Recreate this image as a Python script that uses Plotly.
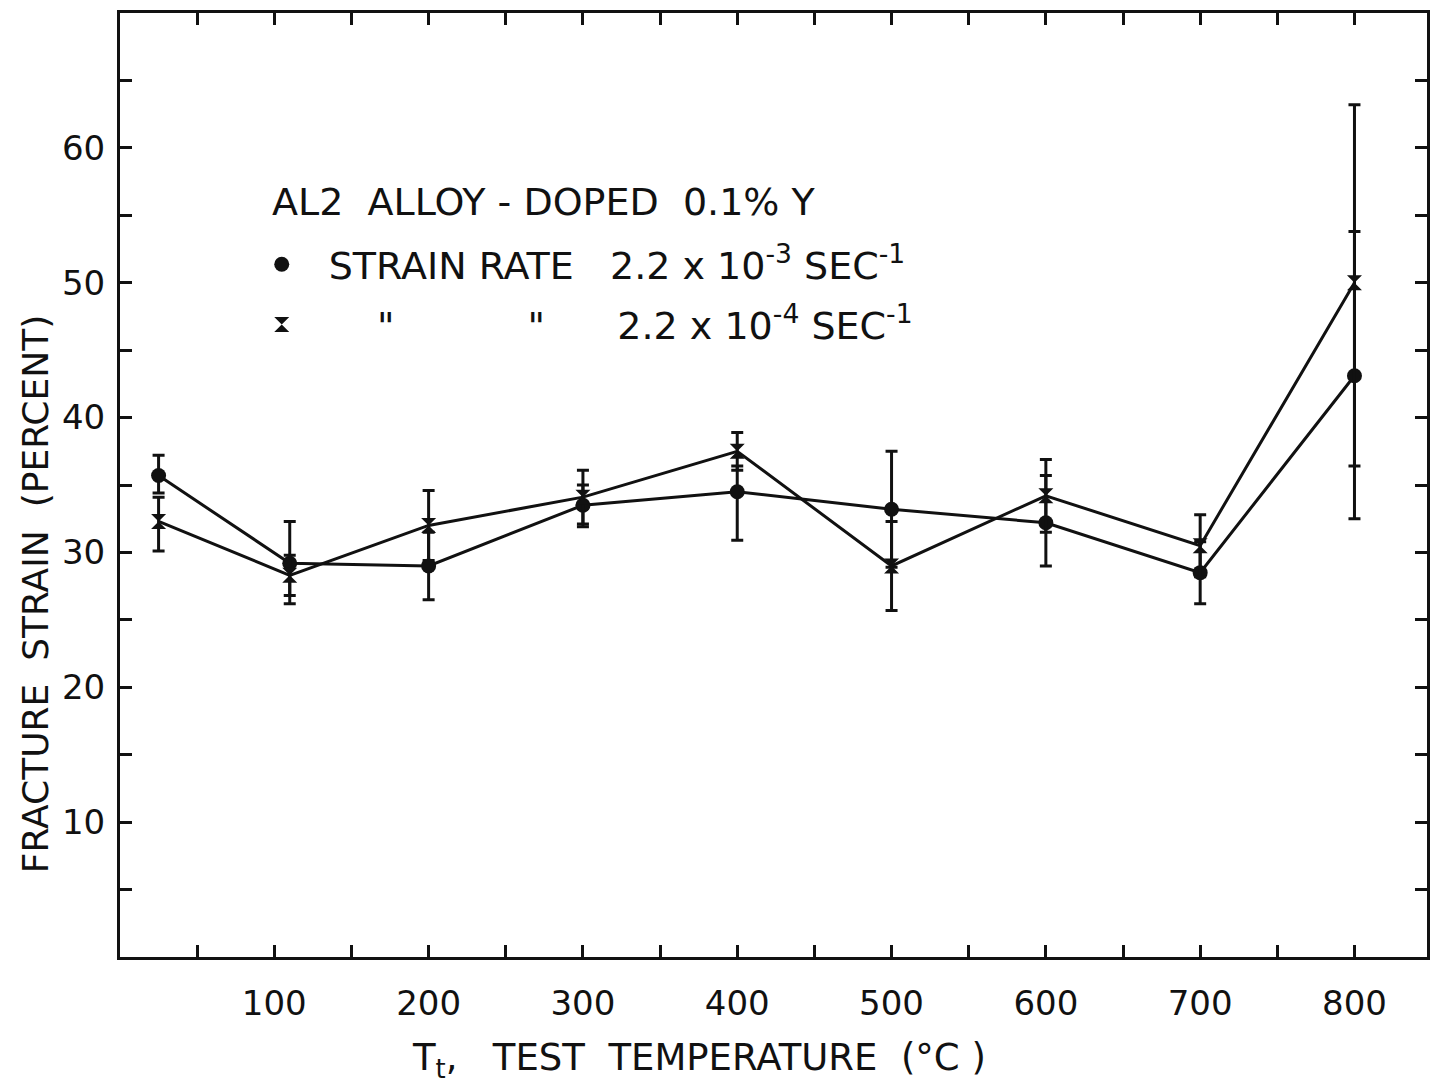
import plotly.graph_objects as go

# ---- data ----
temps = [25, 110, 200, 300, 400, 500, 600, 700, 800]

# strain rate 2.2e-3 s^-1 (circles)
strain_hi = [35.7, 29.2, 29.0, 33.5, 34.5, 33.2, 32.2, 28.5, 43.1]
err_hi_plus = [1.5, 3.1, 2.5, 1.5, 1.9, 4.3, 3.5, 2.3, 10.7]
err_hi_minus = [1.3, 3.0, 2.5, 1.6, 3.6, 4.3, 3.2, 2.3, 10.6]

# strain rate 2.2e-4 s^-1 (stars)
strain_lo = [32.3, 28.3, 32.0, 34.1, 37.5, 29.0, 34.2, 30.5, 50.0]
err_lo_plus = [1.8, 1.5, 2.6, 2.0, 1.4, 3.3, 2.7, 2.3, 13.2]
err_lo_minus = [2.2, 1.5, 2.6, 2.0, 1.4, 3.3, 2.7, 2.3, 13.6]

x_tick_labels = ["100", "200", "300", "400", "500", "600", "700", "800"]
y_tick_labels = ["10", "20", "30", "40", "50", "60"]

NB = "\u00a0"
legend_title = "AL2" + NB * 2 + "ALLOY - DOPED" + NB * 2 + "0.1% Y"
name_hi = "STRAIN RATE" + NB * 3 + "2.2 x 10<sup>-3</sup> SEC<sup>-1</sup>"
name_lo = (NB * 4 + "\"" + NB * 11 + "\"" + NB * 6 +
           "2.2 x 10<sup>-4</sup> SEC<sup>-1</sup>")
x_title = "T<sub>t</sub>," + NB * 3 + "TEST" + NB * 2 + "TEMPERATURE" + NB * 2 + "(°C" + NB + ")"
y_title = "FRACTURE" + NB * 2 + "STRAIN" + NB * 2 + "(PERCENT)"

FONT = "DejaVu Sans"
BLACK = "#111111"

fig = go.Figure()

def add_series(y, ep, em, symbol, name, group):
    fig.add_trace(go.Scatter(
        x=temps, y=y, mode="lines+markers", showlegend=False,
        line=dict(color=BLACK, width=3),
        marker=dict(symbol=symbol, size=15, color=BLACK),
        error_y=dict(type="data", symmetric=False, array=ep, arrayminus=em,
                     color=BLACK, thickness=3, width=6),
    ))
    fig.add_trace(go.Scatter(
        x=[None], y=[None], mode="markers", name=name, legendgroup=group,
        marker=dict(symbol=symbol, size=15, color=BLACK),
    ))

add_series(strain_hi, err_hi_plus, err_hi_minus, "circle", name_hi, "a")
add_series(strain_lo, err_lo_plus, err_lo_minus, "hourglass", name_lo, "b")

x_tickvals = list(range(50, 850, 50))
x_ticktext = [x_tick_labels[(v // 100) - 1] if v % 100 == 0 else "" for v in x_tickvals]
y_tickvals = list(range(5, 70, 5))
y_ticktext = [y_tick_labels[(v // 10) - 1] if v % 10 == 0 else "" for v in y_tickvals]

# pixel helpers for paper-positioned text (plot area: x 120..1430, y 13..957)
def px_x(p):
    return (p - 120) / 1310.0

def px_y(p):
    return (957 - p) / 944.0

fig.update_layout(
    width=1431, height=1085,
    margin=dict(l=120, r=1, t=13, b=128),
    paper_bgcolor="white", plot_bgcolor="white",
    font=dict(family=FONT, color=BLACK, size=32),
    legend=dict(
        x=px_x(235), y=px_y(233), xanchor="left", yanchor="top",
        bgcolor="rgba(0,0,0,0)",
        font=dict(size=38),
        itemwidth=84, tracegroupgap=8, traceorder="grouped",
    ),
    xaxis=dict(
        range=[0, 847], tickmode="array", tickvals=x_tickvals, ticktext=x_ticktext,
        ticks="inside", ticklen=12, tickwidth=3, tickcolor=BLACK,
        showline=True, linewidth=3, linecolor=BLACK, mirror="ticks",
        showgrid=False, zeroline=False,
        tickfont=dict(size=34), ticklabelstandoff=14,
    ),
    yaxis=dict(
        range=[0, 70], tickmode="array", tickvals=y_tickvals, ticktext=y_ticktext,
        ticks="inside", ticklen=12, tickwidth=3, tickcolor=BLACK,
        showline=True, linewidth=3, linecolor=BLACK, mirror="ticks",
        showgrid=False, zeroline=False,
        tickfont=dict(size=34), ticklabelstandoff=5,
    ),
    annotations=[
        dict(text=legend_title, xref="paper", yref="paper", x=px_x(270), y=px_y(202),
             xanchor="left", yanchor="middle", showarrow=False, font=dict(size=38)),
        dict(text=x_title, xref="paper", yref="paper", x=px_x(700), y=px_y(1060),
             xanchor="center", yanchor="middle", showarrow=False, font=dict(size=37)),
        dict(text=y_title, xref="paper", yref="paper", x=px_x(35), y=px_y(594),
             xanchor="center", yanchor="middle", showarrow=False, textangle=-90,
             font=dict(size=36)),
    ],
)

fig.write_html("out.html")
